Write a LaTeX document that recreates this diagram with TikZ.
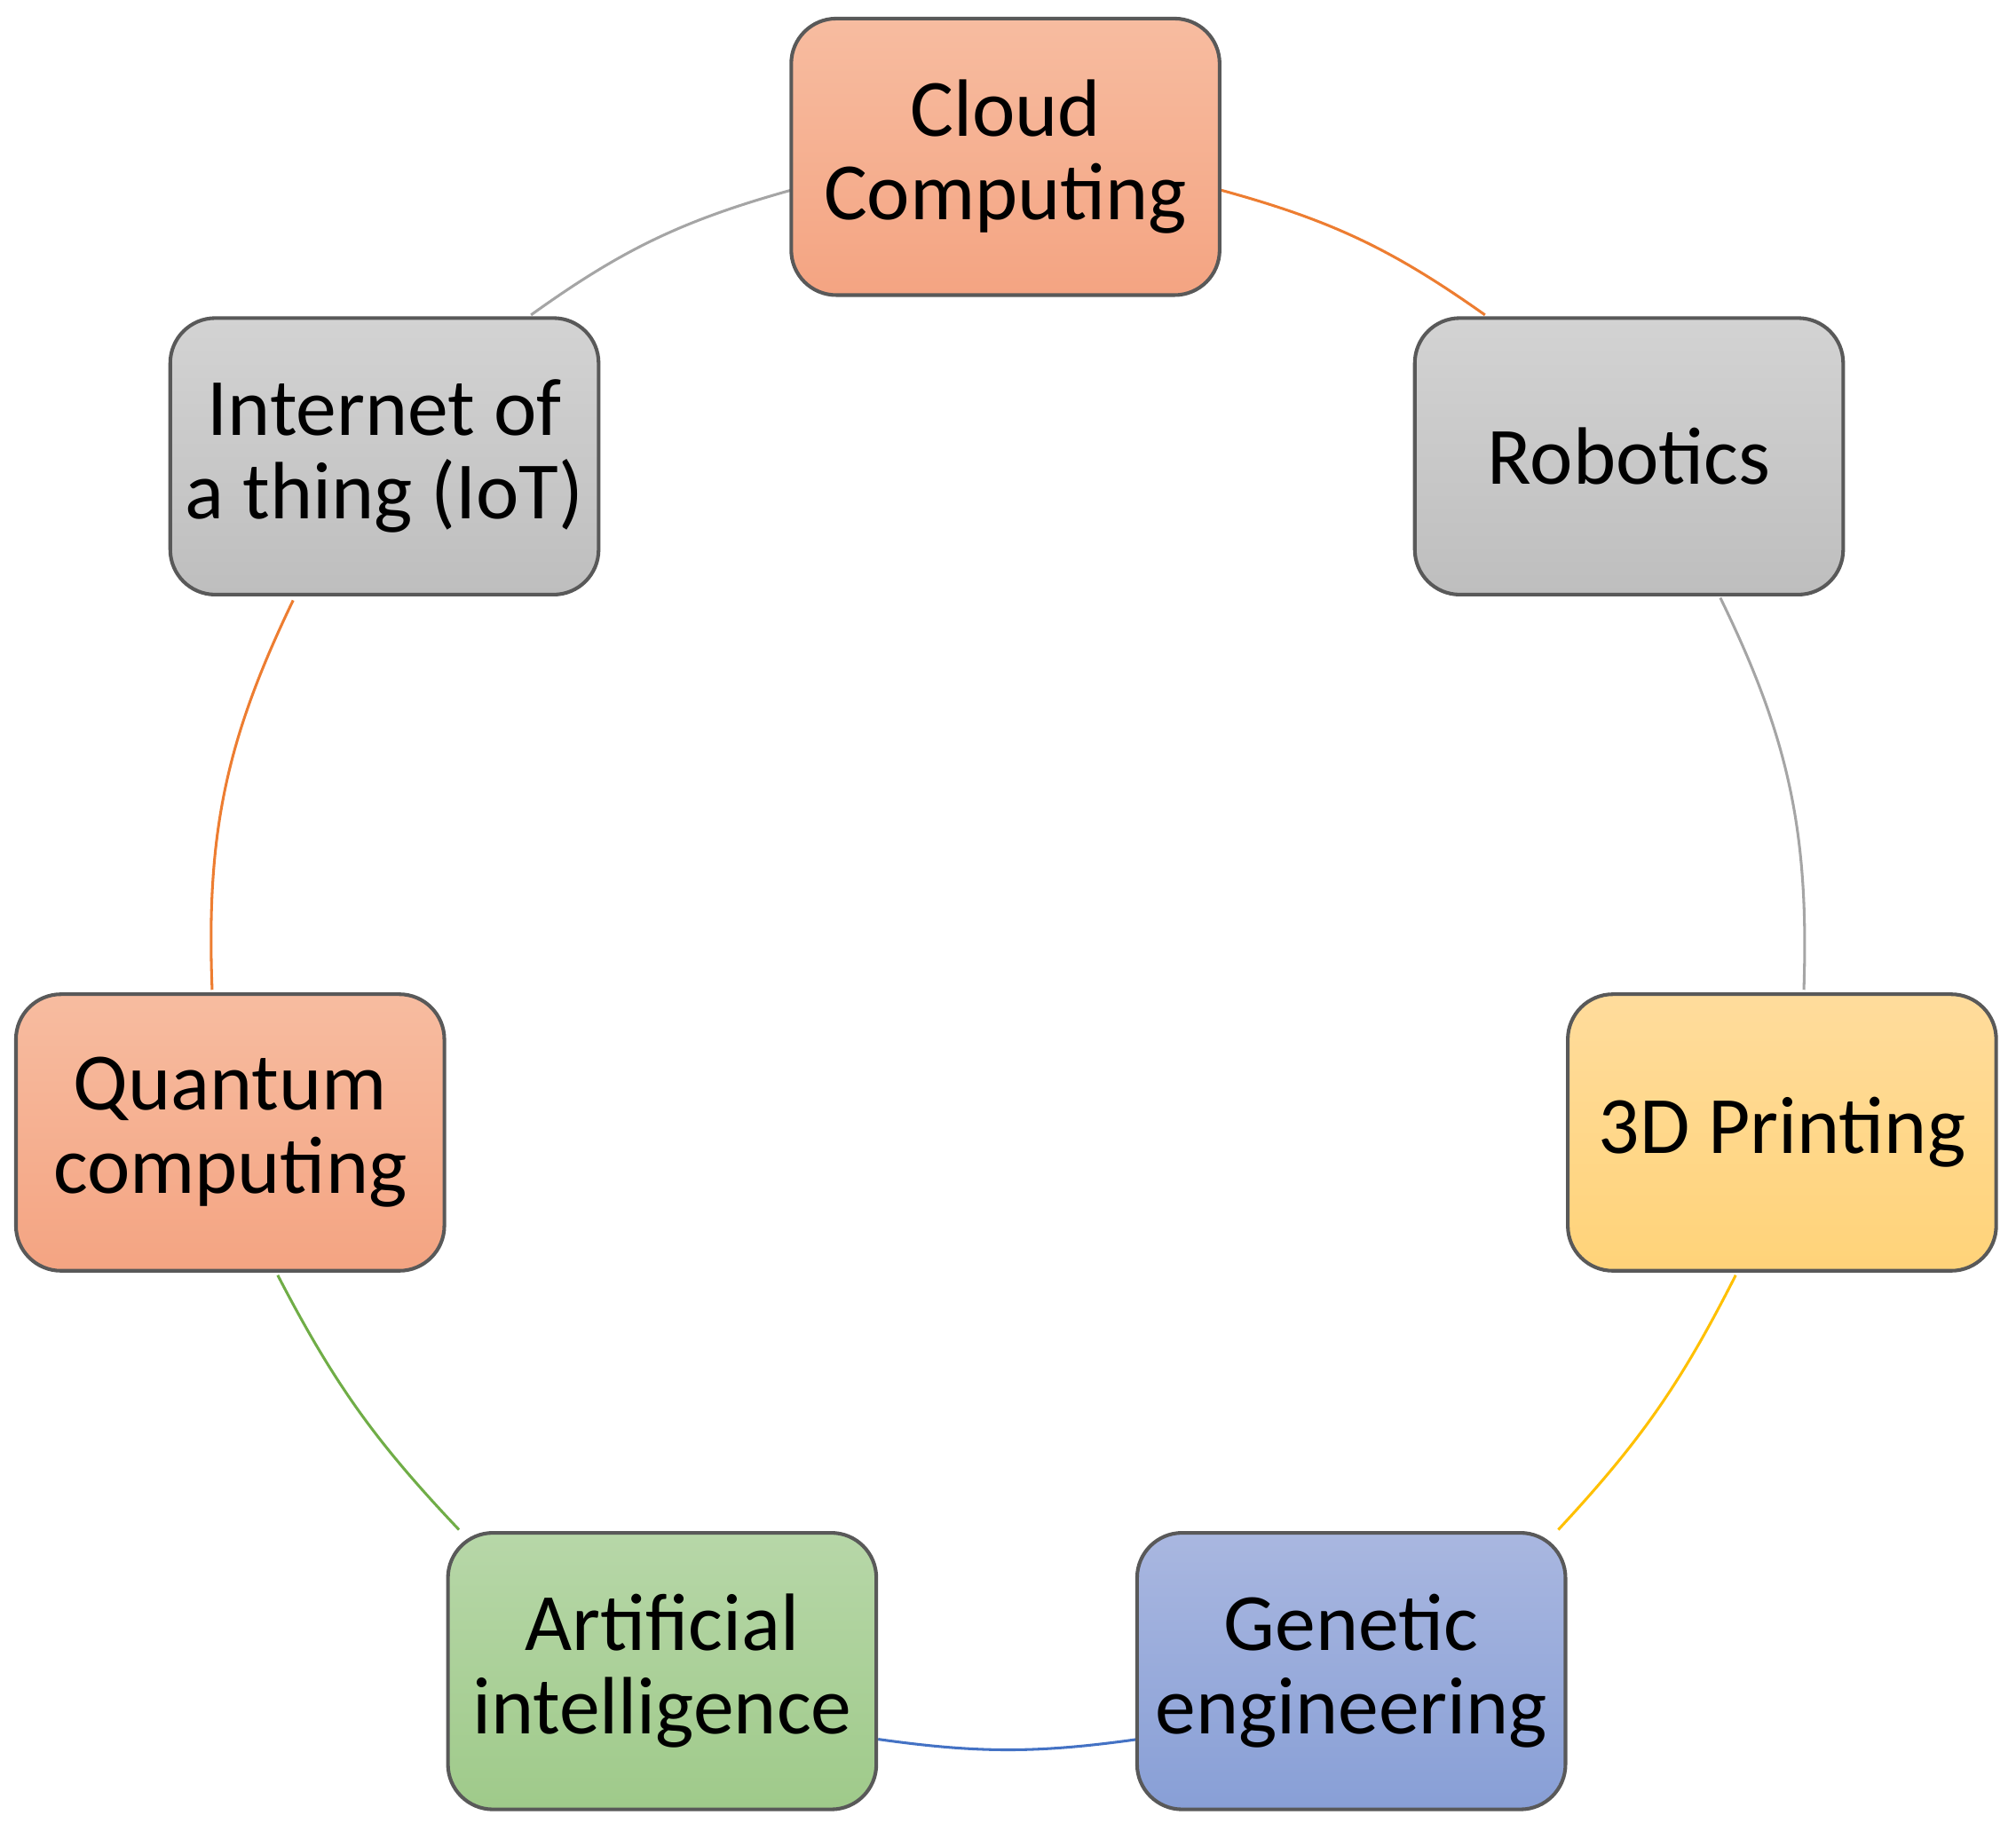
\documentclass[tikz,border=0pt]{standalone}
\usepackage{fontspec}
\setmainfont{Carlito}
\begin{document}
\begin{tikzpicture}[x=0.01cm,y=-0.01cm,
 box/.style={draw=black!65,line width=0.8pt,rounded corners=0.35cm,minimum width=3.33cm,minimum height=2.15cm,align=center,font=\fontsize{18}{18.5}\selectfont,inner sep=0pt},
 orb/.style={box,top color=orA,bottom color=orB},
 grb/.style={box,top color=grA,bottom color=grB},
 con/.style={line width=0.6pt}]
\definecolor{orA}{HTML}{F7BCA0}\definecolor{orB}{HTML}{F4A482}
\definecolor{grA}{HTML}{D3D3D3}\definecolor{grB}{HTML}{BEBEBE}
\definecolor{ylA}{HTML}{FFDC9C}\definecolor{ylB}{HTML}{FFD379}
\definecolor{blA}{HTML}{A9B7E0}\definecolor{blB}{HTML}{889FD6}
\definecolor{gnA}{HTML}{B7D7A8}\definecolor{gnB}{HTML}{9FCA8A}
\definecolor{lorange}{HTML}{ED7D31}\definecolor{lgray}{HTML}{A5A5A5}
\definecolor{lyel}{HTML}{FFC000}\definecolor{lblue}{HTML}{4472C4}\definecolor{lgreen}{HTML}{70AD47}
\useasboundingbox (0,0) rectangle (1568,1430);
\coordinate (a1) at (950,148); \coordinate (a2) at (1155,245);
\coordinate (b1) at (1338,465); \coordinate (b2) at (1403,770);
\coordinate (c1) at (1350,992); \coordinate (c2) at (1212,1190);
\coordinate (d1) at (885,1353); \coordinate (d2) at (683,1353);
\coordinate (e1) at (357,1190); \coordinate (e2) at (216,992);
\coordinate (f1) at (165,770); \coordinate (f2) at (228,467);
\coordinate (g1) at (413,245); \coordinate (g2) at (615,148);
\draw[con,lorange] (a1) to[bend left=10] (a2);
\draw[con,lgray] (b1) to[bend left=14] (b2);
\draw[con,lyel] (c1) to[bend left=8] (c2);
\draw[con,lblue] (d1) to[bend left=8] (d2);
\draw[con,lgreen] (e1) to[bend left=8] (e2);
\draw[con,lorange] (f1) to[bend left=14] (f2);
\draw[con,lgray] (g1) to[bend left=10] (g2);
\node[orb] (cloud) at (782,122) {Cloud\\Computing};
\node[grb] (rob) at (1267,355) {Robotics};
\node[box,top color=ylA,bottom color=ylB] (print) at (1386,881) {3D Printing};
\node[box,top color=blA,bottom color=blB] (gen) at (1051,1300) {Genetic\\engineering};
\node[box,top color=gnA,bottom color=gnB] (ai) at (515,1300) {Artificial\\intelligence};
\node[orb] (qc) at (179,881) {Quantum\\computing};
\node[grb] (iot) at (299,355) {Internet of\\a thing (IoT)};
\end{tikzpicture}
\end{document}
